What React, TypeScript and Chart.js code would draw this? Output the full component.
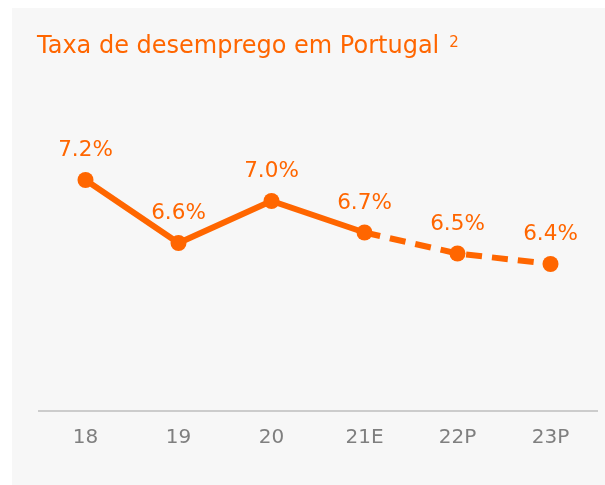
import React, { useEffect, useRef } from "react";
import { Chart, registerables } from "chart.js";

Chart.register(...registerables);

const categories = ["18", "19", "20", "21E", "22P", "23P"];
const rates = [7.2, 6.6, 7.0, 6.7, 6.5, 6.4];
const rateLabels = ["7.2%", "6.6%", "7.0%", "6.7%", "6.5%", "6.4%"];
const firstProjectedIndex = 3; // segments starting at 21E are dashed
const titleText = "Taxa de desemprego em Portugal";
const titleNote = "2";

const ORANGE = "#ff6600";
const FONT = "'DejaVu Sans', Verdana, sans-serif";

const valueLabelsPlugin = {
  id: "valueLabels",
  afterDatasetsDraw(chart: any) {
    const { ctx } = chart;
    const meta = chart.getDatasetMeta(0);
    ctx.save();
    ctx.fillStyle = ORANGE;
    ctx.font = `21.5px ${FONT}`;
    ctx.textAlign = "center";
    ctx.textBaseline = "alphabetic";
    meta.data.forEach((pt: any, i: number) => {
      ctx.fillText(rateLabels[i], pt.x, pt.y - 24);
    });
    ctx.restore();
  },
};

const titlePlugin = {
  id: "manualTitle",
  afterDraw(chart: any) {
    const { ctx } = chart;
    ctx.save();
    ctx.fillStyle = ORANGE;
    ctx.textAlign = "left";
    ctx.textBaseline = "alphabetic";
    ctx.font = `24px ${FONT}`;
    ctx.fillText(titleText, 25, 45);
    const w = ctx.measureText(titleText).width;
    ctx.font = `15px ${FONT}`;
    ctx.fillText(titleNote, 25 + w + 10, 39);
    ctx.restore();
  },
};

export default function App() {
  const ref = useRef<HTMLCanvasElement | null>(null);
  useEffect(() => {
    if (!ref.current) return;
    const chart = new Chart(ref.current, {
      type: "line",
      data: {
        labels: categories,
        datasets: [
          {
            data: rates,
            borderColor: ORANGE,
            backgroundColor: ORANGE,
            borderWidth: 6,
            pointRadius: 8,
            pointHoverRadius: 8,
            pointBorderWidth: 0,
            pointBackgroundColor: ORANGE,
            tension: 0,
            segment: {
              borderDash: (c: any) => (c.p0DataIndex >= firstProjectedIndex ? [16, 10] : undefined),
            },
          },
        ],
      },
      options: {
        animation: false,
        responsive: false,
        layout: { padding: { left: 27, right: 5, top: 88, bottom: 20 } },
        plugins: {
          legend: { display: false },
          tooltip: { enabled: false },
          title: { display: false },
        },
        scales: {
          x: {
            offset: true,
            grid: { display: false, drawTicks: false },
            border: { display: true, color: "#cccccc", width: 2 },
            ticks: { color: "#7f7f7f", font: { family: FONT, size: 20 }, padding: 15 },
          },
          y: {
            display: false,
            min: 5,
            max: 8,
          },
        },
      },
      plugins: [valueLabelsPlugin, titlePlugin],
    });
    return () => chart.destroy();
  }, []);
  return (
    <div style={{ position: "fixed", left: 12, top: 8, width: 593, height: 477, background: "#f7f7f7" }}>
      <canvas ref={ref} width={593} height={477} style={{ display: "block" }} />
    </div>
  );
}
